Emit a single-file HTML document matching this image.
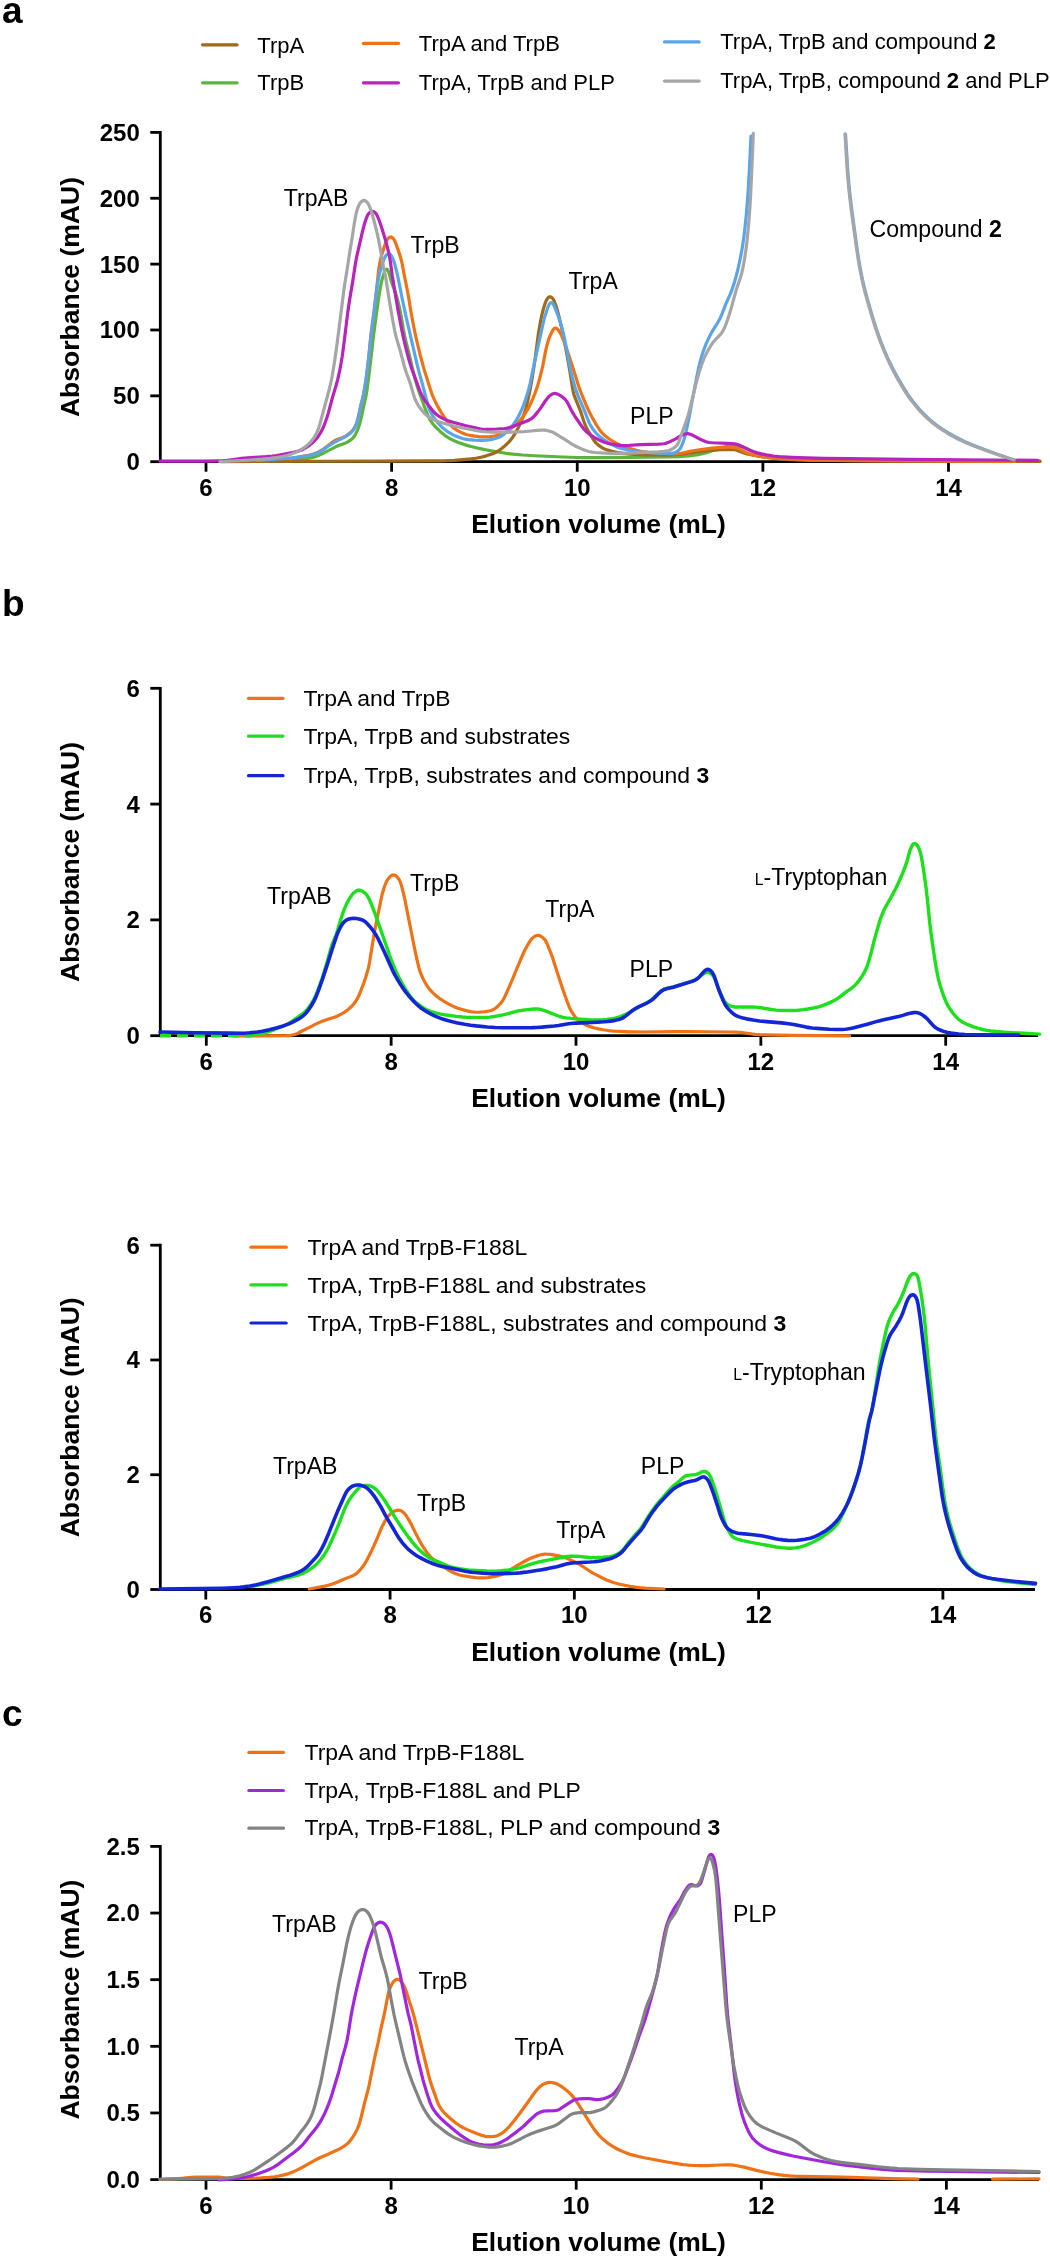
<!DOCTYPE html><html><head><meta charset="utf-8"><title>Figure</title><style>html,body{margin:0;padding:0;background:#fff;}svg{display:block;filter:blur(0.5px);}text{font-family:"Liberation Sans", sans-serif;}</style></head><body>
<svg width="1050" height="2260" viewBox="0 0 1050 2260">
<rect width="1050" height="2260" fill="#fff"/>
<text x="2" y="22.6" font-size="37" font-weight="bold" fill="#000">a</text>
<text x="2" y="616.2" font-size="37" font-weight="bold" fill="#000">b</text>
<text x="2" y="1726" font-size="37" font-weight="bold" fill="#000">c</text>
<path d="M160.3 131 V461.7 M158.9 461.7 H1041" fill="none" stroke="#000" stroke-width="2.8" stroke-linecap="butt"/>
<path d="M150.3 461.7 H160.3" stroke="#000" stroke-width="2.8"/>
<text x="139.8" y="470.1" font-size="24" font-weight="bold" text-anchor="end">0</text>
<path d="M150.3 395.84 H160.3" stroke="#000" stroke-width="2.8"/>
<text x="139.8" y="404.24" font-size="24" font-weight="bold" text-anchor="end">50</text>
<path d="M150.3 329.98 H160.3" stroke="#000" stroke-width="2.8"/>
<text x="139.8" y="338.38" font-size="24" font-weight="bold" text-anchor="end">100</text>
<path d="M150.3 264.12 H160.3" stroke="#000" stroke-width="2.8"/>
<text x="139.8" y="272.52" font-size="24" font-weight="bold" text-anchor="end">150</text>
<path d="M150.3 198.26 H160.3" stroke="#000" stroke-width="2.8"/>
<text x="139.8" y="206.66" font-size="24" font-weight="bold" text-anchor="end">200</text>
<path d="M150.3 132.4 H160.3" stroke="#000" stroke-width="2.8"/>
<text x="139.8" y="140.8" font-size="24" font-weight="bold" text-anchor="end">250</text>
<path d="M206 461.7 V471.7" stroke="#000" stroke-width="2.8"/>
<text x="206" y="495.6" font-size="24" font-weight="bold" text-anchor="middle">6</text>
<path d="M391.62 461.7 V471.7" stroke="#000" stroke-width="2.8"/>
<text x="391.62" y="495.6" font-size="24" font-weight="bold" text-anchor="middle">8</text>
<path d="M577.25 461.7 V471.7" stroke="#000" stroke-width="2.8"/>
<text x="577.25" y="495.6" font-size="24" font-weight="bold" text-anchor="middle">10</text>
<path d="M762.88 461.7 V471.7" stroke="#000" stroke-width="2.8"/>
<text x="762.88" y="495.6" font-size="24" font-weight="bold" text-anchor="middle">12</text>
<path d="M948.5 461.7 V471.7" stroke="#000" stroke-width="2.8"/>
<text x="948.5" y="495.6" font-size="24" font-weight="bold" text-anchor="middle">14</text>
<text x="598.5" y="532.9" font-size="26.5" font-weight="bold" text-anchor="middle">Elution volume (mL)</text>
<text transform="translate(79.2 297.05) rotate(-90)" x="0" y="0" font-size="26.5" font-weight="bold" text-anchor="middle">Absorbance (mAU)</text>
<path d="M289.5 460.3L304.63 458.84L308.99 458.27L311.34 457.79L313.65 457.16L316.31 456.28L319.3 455.15L322.57 453.64L332.12 448.6L335.69 446.81L338.63 445.55L345.02 443.22L346.83 442.39L348.58 441.43L350.89 439.85L352.1 438.82L352.94 437.97L354.42 436.09L356 433.33L357.35 430.42L358.38 427.82L359.37 424.78L360.45 420.93L361.88 415.1L363.76 405.69L365.6 397.91L366.35 393.98L367.4 386.86L369.35 371.78L371.19 356.29L373.24 338L374.59 327.29L378.45 299.15L379.38 293.23L380.69 285.74L381.32 282.6L381.97 279.88L383.22 275.66L384.24 272.63L385 270.81L385.59 269.87L386.29 269.27L386.79 269.19L387.27 269.39L387.7 269.83L388.06 270.44L388.5 271.51L389.1 273.41L391.23 281.12L395.37 292.38L396.56 296.2L397.83 300.83L399.25 306.66L400.43 312.13L403.46 329.87L404.71 336.15L405.81 340.82L408.47 351.29L412.46 368.43L414.59 376.97L416.03 382.38L417.8 388.11L420.52 395.63L423.8 405.08L426.53 412.17L428.4 416.59L429.65 419.09L430.89 421.15L432.51 423.42L434.29 425.58L436.48 427.91L439.65 430.96L442.34 433.35L444.84 435.35L446.8 436.73L448.84 437.99L451.3 439.32L454.18 440.71L457.12 441.97L460.11 443.12L463.51 444.3L466.95 445.37L471.19 446.54L476.24 447.79L481.31 448.92L486.8 450.03L492.71 451.1L502.57 452.75L508.11 453.57L512.87 454.17L522.43 454.99L534.81 455.74L563.18 457.02L576.77 457.51L584.77 457.66L592.37 457.7L626.37 457.46L668.76 456.82L679.16 456.53L684.75 456.21L689.13 455.81L693.5 455.29L698.25 454.6L701.4 454.02L705.65 452.89L714.78 449.94L727.06 446.34L729.01 445.87L730.97 445.51L732.56 445.33L734.15 445.26L736.14 445.37L738.11 445.66L741.23 446.36L743.53 447.05L745.75 447.95L749.35 449.69L751.46 450.81L754.92 452.83L756.7 453.72L759.32 454.68L763.56 455.87L769.01 457.12L774.54 458.05L779.31 458.54L787.29 459.01L798.08 459.49L808.88 459.84L820.48 460.09L832.87 460.22L901.27 460.61L1040 461" fill="none" stroke="#5BB43C" stroke-width="3.2" stroke-linejoin="round" stroke-linecap="round"/>
<path d="M221.5 461.6L377.9 461.19L429.5 460.89L441.1 460.78L446.7 460.65L454.29 460.29L462.67 459.7L471.03 458.93L475.79 458.28L480.88 457.27L486.3 455.84L491.99 453.97L493.86 453.24L495.67 452.4L497.76 451.24L499.77 449.92L501.69 448.49L503.86 446.72L506.23 444.58L508.52 442.34L510.14 440.57L511.63 438.69L513.24 436.4L514.95 433.7L516.76 430.59L518.45 427.41L519.84 424.53L521.3 421.24L522.64 417.9L524.01 414.14L525.85 408.43L527.36 402.62L529.24 394.03L531.36 383.03L533.05 372.77L535.25 357.73L538.53 332.74L540.09 323.68L541.67 315.84L542.69 311.56L543.74 307.7L544.79 304.26L545.77 301.64L546.84 299.5L547.94 297.87L548.46 297.34L549.04 296.95L549.66 296.76L549.99 296.75L550.96 297.03L551.57 297.43L552.14 297.94L552.66 298.53L553.35 299.49L554.27 301.25L555.45 304.22L556.48 307.25L557.59 311.09L558.88 316.13L561.88 328.98L564.69 342.7L567 354.88L568.61 363.94L570.69 376.16L572.86 389.99L573.61 393.51L574.45 396.18L580.58 411.39L581.64 414.41L583.82 421.27L585.09 424.63L586.26 427.18L587.72 430.02L592.14 437.63L593.63 439.99L594.82 441.6L596.16 443.07L597.94 444.68L600.15 446.39L602.49 447.92L604.62 449.02L606.85 449.88L611.86 451.25L617.73 452.52L623.25 453.42L628.42 454L634.01 454.34L646.4 454.78L656.8 455.02L666.4 455.09L672.39 454.91L678.77 454.35L694.25 452.43L703.35 451.08L707.72 450.58L714.9 450.1L722.09 449.74L728.49 449.54L732.48 449.55L734.46 449.76L736.79 450.31L738.68 450.95L743.91 452.94L746.98 453.84L753.64 455.22L760.73 456.46L768.65 457.55L781.78 458.91L790.56 459.61L798.15 459.96L834.14 460.4L878.14 460.74L1040 461.4" fill="none" stroke="#A06A1C" stroke-width="3.2" stroke-linejoin="round" stroke-linecap="round"/>
<path d="M289.5 459L300.85 456.62L308.32 455.23L311.45 454.55L313.38 454.02L315.27 453.38L318.93 451.78L321.39 450.44L323.39 449.13L328.5 445.28L332.58 442.06L334.56 440.71L335.61 440.13L337.06 439.48L341.6 437.93L343.44 437.18L345.57 436.08L347.93 434.57L350.43 432.59L352.41 430.62L354.1 428.4L354.73 427.38L355.45 425.96L356.19 424.11L357.07 421.45L358.16 417.61L358.95 414.5L360.89 405.1L362.68 398.13L363.47 394.62L364.48 389.11L365.54 382.4L366.78 373.68L367.86 364.95L368.96 355.01L370.93 335.11L374.42 308.54L376.23 292.64L378.23 273.55L378.93 268.39L379.79 263.26L380.67 258.95L381.58 255.47L384.44 246.31L385.94 242.18L386.95 240.02L387.6 239.02L388.09 238.41L388.64 237.86L389.24 237.41L389.88 237.11L390.56 236.98L391.57 237.17L392.21 237.53L392.79 238L393.8 239.19L394.59 240.56L395.51 242.77L398.12 249.91L400 255.6L401.11 259.44L402.27 264.51L404.29 275.12L407.67 291.99L408.71 297.89L411.07 312.51L412.8 321.95L414.76 331.75L416.74 340.74L420.14 354.73L423.47 367.09L425.18 372.84L430.59 390.01L432.15 394.55L433.51 397.88L435.03 401.14L437.22 405.41L439.55 409.61L441.6 413.04L443.77 416.4L446.5 420.35L448.44 422.89L449.76 424.39L451.48 426.06L453.61 427.87L455.54 429.29L457.57 430.56L460.04 431.88L462.57 433.08L464.8 433.97L466.32 434.46L468.25 434.96L473.36 435.91L478.51 436.61L482.9 436.94L486.5 436.94L490.08 436.67L494.44 436.04L498.35 435.25L500.64 434.56L503.21 433.46L505.67 432.12L508.7 430.18L512.59 427.37L515.07 425.36L517.4 423.16L519.83 420.51L522.1 417.72L524.24 414.82L526.02 412.16L527.65 409.42L529.34 406.24L531.07 402.63L532.83 398.6L534.76 393.77L536.43 389.27L537.68 385.47L539.15 380.48L540.69 374.69L542.73 366.13L545.18 353.16L546.07 348.85L547.04 344.97L548.4 340.36L549.17 338.09L550.05 335.86L551.4 332.96L552.69 330.48L553.33 329.49L554.08 328.65L554.96 328.13L555.6 328.05L556.24 328.19L556.86 328.53L557.69 329.29L558.43 330.21L560.58 333.58L561.33 334.99L562.17 336.8L563.91 341.27L567.82 352.19L573.76 370.45L578.53 385.72L579.98 389.88L582.12 395.48L585.95 404.72L589.48 412.34L591.12 415.54L593.05 419.05L595.63 423.56L597.71 426.98L599.03 428.98L600.43 430.93L601.69 432.48L603.06 433.93L604.53 435.28L606.7 437.05L608.94 438.72L611.26 440.29L613.65 441.75L615.75 442.91L617.89 443.99L620.45 445.13L625.32 446.94L632.19 449.09L636.44 450.25L640.72 451.24L644.66 451.95L648.22 452.42L655.4 453L663.39 453.47L670.18 453.73L675.78 453.77L678.17 453.65L680.95 453.29L683.7 452.77L689.94 451.35L693.07 450.72L699.4 449.76L706.54 448.82L712.11 448.21L722.07 447.33L726.46 447.13L730.06 447.21L732.45 447.42L734.82 447.74L736.4 448.02L737.94 448.41L739.06 448.82L740.14 449.32L745.36 452.25L747.95 453.32L751.37 454.44L754.83 455.41L757.95 456.14L761.1 456.7L769.03 457.71L777.8 458.46L795.77 459.45L812.56 460.13L828.55 460.48L868.55 460.78L1015 461.3" fill="none" stroke="#F07216" stroke-width="3.2" stroke-linejoin="round" stroke-linecap="round"/>
<path d="M257 460.5L282.93 458.6L292.1 457.81L298.07 457.21L302.82 456.58L307.16 455.83L311.06 454.96L314.52 453.98L317.88 452.7L320.76 451.3L322.78 450.03L327.94 446.24L331.32 444.11L336.55 441.16L343.69 437.57L347.15 435.56L349.42 433.93L351.22 432.36L352.85 430.6L354.26 428.67L355.23 426.93L356.15 424.72L357.14 421.68L358.32 417.44L359.14 413.94L360.85 405.31L362.71 398.36L363.36 395.63L364.73 388.16L366.32 377.48L367.45 368.75L368.9 356.03L371.01 334.94L373.87 313.53L375.93 295.65L377.35 285.35L378.48 278.64L379.58 273.56L380.9 268.53L382.19 264.33L384.04 259.04L385.06 256.88L386.19 255.26L387.29 254.21L387.91 253.88L388.55 253.75L388.88 253.76L389.51 253.96L390.38 254.59L391.36 255.79L392.18 257.15L392.84 258.6L393.66 260.85L394.75 264.28L395.61 267.36L396.85 272.41L398.08 277.87L401.55 295.53L405.61 314.71L417.03 364.21L418.79 371.19L422.36 383.9L425.64 396.68L427.64 404.01L428.67 407.46L429.81 410.45L431.41 413.67L433.28 416.74L435.63 419.98L438.69 423.67L441.73 426.85L444.43 429.22L447.65 431.59L449.66 432.9L451.38 433.91L453.16 434.84L454.97 435.67L458.31 437.03L460.93 438L463.22 438.72L465.16 439.2L468.31 439.67L474.7 440.05L482.7 440.28L485.1 440.27L487.09 440.17L488.68 439.99L490.65 439.66L494.53 438.71L498.34 437.49L499.8 436.85L500.86 436.3L502.22 435.46L503.52 434.54L506.29 432.25L509.75 428.92L512.14 426.23L514.04 423.66L516.19 420.29L518.36 416.46L520.36 412.54L522 408.9L523.64 404.82L525.28 400.31L526.92 395.37L528.74 389.24L530.08 383.8L534.85 360.69L540.18 336.88L542.86 324.36L544.07 319.3L544.95 316.23L546.79 310.52L547.83 307.49L548.57 305.64L549.27 304.22L549.93 303.32L550.72 302.75L551.3 302.65L551.59 302.7L552.15 302.99L552.89 303.75L553.7 305.08L554.53 306.89L557.12 313.18L558.25 316.17L559.77 320.73L561.36 326.1L563.21 333.05L564.87 340.47L567.15 351.84L569.7 366.01L570.95 371.88L572.17 376.94L573.4 381.57L574.96 386.95L576.3 391.15L577.98 395.64L584.91 411.82L588.07 420.03L589.16 422.61L590.43 425.1L591.87 427.5L593.44 429.81L595.17 432.01L596.5 433.5L598.18 435.21L601.19 437.84L604.44 440.17L609.2 443.11L613.43 445.37L617.09 446.99L620.49 448.16L625.52 449.48L632.17 450.9L635.32 451.42L638.5 451.82L646.87 452.47L658.05 453.08L666.85 453.35L670.45 453.38L672.04 453.33L673.22 453.17L674.36 452.87L675.45 452.43L676.84 451.64L678.12 450.71L679.28 449.63L680.02 448.71L680.86 447.36L681.88 445.2L683.21 441.85L684.11 439.2L684.87 436.51L686.46 429.9L688.57 420.12L696.83 376.5L698.09 370.22L699.07 365.93L700.39 360.9L701.71 356.29L703.03 352.09L704.49 347.94L705.96 344.22L707.57 340.56L709.48 336.6L712.3 331.31L713.75 328.91L717.84 322.51L719.22 320.07L720.3 317.93L721.87 314.25L725.76 304.18L730.49 293.58L732.47 288.35L734.42 282.25L736.35 275.32L738.47 266.78L739.78 260.92L740.89 255.44L741.97 249.53L742.93 243.61L743.72 238.07L744.52 231.72L746.08 217L747.34 202.65L748.37 187.49L749.69 163.93L751 136.2" fill="none" stroke="#5AA5EA" stroke-width="3.2" stroke-linejoin="round" stroke-linecap="round"/>
<path d="M845.5 134L847.28 163.15L848.04 174.32L848.97 185.08L850.21 197.02L852.11 212.5L857.1 248.96L859.15 262.4L860.95 272.24L862.26 278.5L863.68 284.74L865.12 290.57L866.74 296.76L868.9 304.46L871.92 314.83L874.26 322.48L876.47 329.33L880.16 339.91L881.87 344.39L883.82 349.21L886.02 354.36L888.16 359.1L890.57 364.15L892.91 368.8L897.87 377.94L903.52 387.61L908.26 395.02L910.55 398.3L912.69 401.2L915.19 404.32L918.3 407.98L921.25 411.24L924.3 414.41L927.16 417.2L930.12 419.89L932.88 422.21L935.72 424.42L938.95 426.78L942.24 429.04L945.6 431.22L949.36 433.51L953.18 435.68L957.06 437.76L960.99 439.73L964.97 441.6L972.7 444.9L982.4 448.65L995.9 453.67L1014 460" fill="none" stroke="#5AA5EA" stroke-width="3.2" stroke-linejoin="round" stroke-linecap="round"/>
<path d="M160 461.2L205.2 461.03L218.4 460.91L222 460.81L227.17 460.35L237.08 458.97L241.45 458.46L247.83 457.93L266.18 456.6L272.15 456.02L276.51 455.47L283.22 454.34L294.59 452.07L298.47 451.11L301.11 450.19L302.93 449.36L305.02 448.2L307.39 446.7L309.67 445.08L311.23 443.84L313.03 442.24L314.72 440.55L316.32 438.76L317.57 437.2L318.96 435.24L320.24 433.22L321.43 431.13L323.35 427.18L325.38 421.96L327.08 417.05L328.38 412.85L332.62 397L336.09 385.52L337.54 380.11L338.81 374.66L340.04 368.78L341.22 362.49L342.2 356.57L343.3 348.65L347.47 314.91L348.63 306.18L349.8 298.67L352.62 282.11L355.44 263.53L356.66 256.84L362.21 232.67L364.18 224.91L365.58 220.32L367.13 216.21L367.85 214.79L368.51 213.81L369.57 212.65L370.49 211.95L371.51 211.5L372.22 211.39L372.94 211.46L373.63 211.7L374.29 212.07L375.19 212.81L375.99 213.68L376.67 214.65L377.74 216.78L380.03 222.75L381.92 228.45L385.21 239.15L387.5 247.65L388.88 253.49L389.95 258.98L390.56 262.93L392.21 275.22L394.22 287.87L398.06 310.34L401.72 329.59L404.44 342.1L407.21 353.37L409.99 363.39L411.2 367.2L412.51 370.98L416.16 380.72L419.02 388.61L420.49 392.33L421.49 394.51L422.61 396.63L424.05 399.03L425.61 401.35L428.46 405.22L432.13 409.97L434.22 412.39L435.93 414.06L438.14 415.76L440.86 417.44L444.08 419.06L447.4 420.43L450.04 421.35L453.11 422.28L465.09 425.48L477.57 428.31L479.92 428.77L481.9 429.06L484.29 429.25L486.69 429.29L496.68 429.01L504.27 428.54L506.24 428.27L508.2 427.86L510.12 427.32L512.39 426.56L525.14 421.83L528.78 420.17L530.52 419.19L531.84 418.3L533.06 417.28L534.47 415.87L537.78 411.86L540.41 408.34L545.29 401.01L547.23 398.47L548.79 396.65L550.25 395.31L551.9 394.21L553.33 393.62L554.09 393.48L554.85 393.45L556 393.6L557.14 393.93L558.6 394.55L560 395.31L561.67 396.41L563.26 397.62L564.74 398.96L565.81 400.14L566.76 401.41L567.79 403.12L571.21 409.91L572.55 412.36L574.64 415.77L577.27 419.78L581.62 426.02L583.54 428.58L585.68 430.94L588.36 433.35L591.25 435.48L594.99 437.79L598.85 439.91L602.48 441.57L605.11 442.52L608.2 443.35L613.28 444.44L617.62 445.18L622 445.61L625.99 445.65L629.59 445.46L637.16 444.78L640.75 444.54L658.74 444.12L661.54 443.99L663.52 443.77L665.08 443.45L666.99 442.87L668.86 442.16L671.04 441.17L675.69 438.85L677.07 438.05L680.08 436.08L682.2 434.99L683.69 434.41L685.22 433.96L686.38 433.74L687.56 433.67L689.11 433.89L690.97 434.55L693.85 435.92L698.82 438.5L703.15 440.58L705.36 441.5L707.26 442.08L709.62 442.48L712.81 442.77L731.98 443.72L734.37 443.9L735.95 444.13L737.49 444.51L739.35 445.23L748.32 449.64L750.51 450.62L753.14 451.58L756.57 452.65L761.21 453.86L766.31 454.9L773.42 456.03L778.99 456.62L791.77 457.32L806.96 457.88L823.35 458.28L847.75 458.68L907.74 459.37L1037.6 460.4" fill="none" stroke="#B823BD" stroke-width="3.2" stroke-linejoin="round" stroke-linecap="round"/>
<path d="M219.9 461.6L247.47 460.23L255.45 459.72L262.23 459.17L270.18 458.33L277.32 457.36L282.44 456.48L286.72 455.46L291.68 453.92L293.93 453.08L296.14 452.15L298.31 451.13L300.43 450L302.14 448.97L304.14 447.64L306.06 446.21L307.6 444.93L309.36 443.3L310.74 441.86L312.04 440.34L313.25 438.76L314.36 437.1L315.37 435.37L316.65 432.88L317.95 429.96L318.92 427.34L319.86 424.28L329.42 388.74L330.91 382.52L332.08 376.63L333.99 365.19L336.2 350.15L338.75 330.72L343.51 293.02L344.75 283.91L347.3 268.52L349.95 250.71L352.55 235.33L354.37 223.06L355.89 214.8L356.6 211.69L357.26 209.38L358.2 206.74L359.19 204.57L360.26 202.9L361.58 201.44L362.18 200.96L362.83 200.59L363.85 200.34L364.55 200.42L365.22 200.67L365.85 201.07L366.72 201.85L367.49 202.75L368.17 203.73L368.76 204.77L369.42 206.21L370.84 209.95L372.05 213.76L374.68 223.41L376.36 230L378.07 237.41L379.63 245.25L381 252.73L383.51 267.72L385.17 274.72L385.72 277.46L388.14 293.28L390.09 305.12L393.06 322.06L394.63 330.31L395.49 334.22L396.47 338.1L400.32 351.14L404.53 366.99L406.12 371.94L409.94 382.47L411.01 385.9L413.65 395.13L414.55 397.78L415.47 399.99L416.52 402.15L417.67 404.25L418.94 406.29L420.3 408.27L421.99 410.5L423.54 412.33L425.19 414.06L426.68 415.39L428.28 416.59L430.29 417.89L432.04 418.86L434.19 419.92L436.4 420.86L438.65 421.7L444.36 423.51L452.1 425.56L463.02 428.02L470.87 429.55L477.96 430.8L481.52 431.33L485.5 431.73L492.69 432.17L497.89 432.36L503.09 432.38L511.48 432.17L524.27 431.57L528.26 431.27L537.02 430.43L541.01 430.17L543 430.14L544.6 430.2L546.18 430.39L547.75 430.7L549.69 431.19L551.59 431.78L553.08 432.37L554.86 433.27L564.34 439.21L571.4 443.77L573.8 445.2L576.28 446.5L582.12 449.12L585.84 450.59L588.89 451.53L592.03 452.12L595.61 452.48L601.59 452.93L606.79 453.2L611.58 453.35L620.78 453.35L632.78 452.97L653.56 452.08L658.75 451.75L663.53 451.32L666.7 450.92L668.65 450.51L670.53 449.87L672.66 448.79L674.31 447.66L676.12 446.11L677.42 444.62L678.22 443.26L678.97 441.42L686.25 421.08L688.12 415.38L689.53 410.38L696.02 383.55L697.74 376.97L699.35 371.61L701.09 366.29L702.57 362.15L704.05 358.43L705.54 355.15L707.15 351.94L708.9 348.79L710.78 345.72L712.59 343.08L714.08 341.2L715.42 339.72L719.32 335.71L720.62 334.2L721.59 332.92L722.69 331.26L723.66 329.51L724.52 327.71L725.44 325.49L727.35 320.23L730.11 311.87L731.56 306.88L736 290.68L737.23 286.87L740.14 278.57L741.69 273.19L742.69 268.91L743.7 263.81L744.65 258.29L745.61 251.96L746.52 245.22L747.23 239.26L748.58 224.93L749.86 207.77L750.64 194.6L752.05 164.23L753.3 133.3" fill="none" stroke="#A6A6A8" stroke-width="3.2" stroke-linejoin="round" stroke-linecap="round"/>
<path d="M845 134L846.78 163.15L847.54 174.32L848.47 185.08L849.75 197.41L851.66 212.9L856.72 249.75L858.78 263.19L860.61 273.02L861.93 279.28L863.28 285.13L864.81 291.34L866.45 297.53L871.65 315.6L874.01 323.24L876.23 330.09L878.18 335.76L880.09 341.03L881.96 345.88L884.07 351.07L886.28 356.21L888.58 361.32L891 366.37L893.34 371.01L898.32 380.14L903.61 389.1L905.96 392.82L908.4 396.47L910.72 399.74L912.89 402.6L915.68 406.01L918.56 409.33L921.53 412.58L924.61 415.72L927.5 418.48L930.49 421.14L933.28 423.42L936.46 425.84L939.71 428.17L943.36 430.62L946.75 432.76L950.53 435L954.03 436.94L957.93 438.97L961.89 440.9L965.89 442.72L970.68 444.75L975.89 446.81L990.15 452.05L998.09 454.8L1014 460" fill="none" stroke="#A6A6A8" stroke-width="3.2" stroke-linejoin="round" stroke-linecap="round"/>
<path d="M160.3 686.9 V1035.7 M158.9 1035.7 H1038" fill="none" stroke="#000" stroke-width="2.8" stroke-linecap="butt"/>
<path d="M150.3 1035.7 H160.3" stroke="#000" stroke-width="2.8"/>
<text x="139.8" y="1044.1" font-size="24" font-weight="bold" text-anchor="end">0</text>
<path d="M150.3 919.9 H160.3" stroke="#000" stroke-width="2.8"/>
<text x="139.8" y="928.3" font-size="24" font-weight="bold" text-anchor="end">2</text>
<path d="M150.3 804.1 H160.3" stroke="#000" stroke-width="2.8"/>
<text x="139.8" y="812.5" font-size="24" font-weight="bold" text-anchor="end">4</text>
<path d="M150.3 688.3 H160.3" stroke="#000" stroke-width="2.8"/>
<text x="139.8" y="696.7" font-size="24" font-weight="bold" text-anchor="end">6</text>
<path d="M206.3 1035.7 V1045.7" stroke="#000" stroke-width="2.8"/>
<text x="206.3" y="1069.6" font-size="24" font-weight="bold" text-anchor="middle">6</text>
<path d="M391.15 1035.7 V1045.7" stroke="#000" stroke-width="2.8"/>
<text x="391.15" y="1069.6" font-size="24" font-weight="bold" text-anchor="middle">8</text>
<path d="M576 1035.7 V1045.7" stroke="#000" stroke-width="2.8"/>
<text x="576" y="1069.6" font-size="24" font-weight="bold" text-anchor="middle">10</text>
<path d="M760.85 1035.7 V1045.7" stroke="#000" stroke-width="2.8"/>
<text x="760.85" y="1069.6" font-size="24" font-weight="bold" text-anchor="middle">12</text>
<path d="M945.7 1035.7 V1045.7" stroke="#000" stroke-width="2.8"/>
<text x="945.7" y="1069.6" font-size="24" font-weight="bold" text-anchor="middle">14</text>
<text x="598.5" y="1106.9" font-size="26.5" font-weight="bold" text-anchor="middle">Elution volume (mL)</text>
<text transform="translate(79.2 862) rotate(-90)" x="0" y="0" font-size="26.5" font-weight="bold" text-anchor="middle">Absorbance (mAU)</text>
<path d="M234.2 1036L269 1035.83L285.8 1035.63L288.2 1035.54L290.18 1035.35L292.16 1035.04L294.11 1034.62L296.01 1034.03L297.48 1033.41L302.39 1030.74L308.55 1027.86L315.64 1024.15L318.9 1022.63L322.24 1021.28L326.37 1019.77L335.11 1016.92L336.98 1016.2L339.16 1015.21L342.33 1013.51L345.69 1011.34L348.55 1009.15L351.2 1006.73L353.62 1004.07L355.56 1001.53L357.04 999.16L358.49 996.31L360.69 991.16L363.66 983.3L365.63 977.63L367.24 972.27L368.62 966.85L369.51 962.54L373.79 936.08L376.01 923.88L381.51 897.25L382.53 892.97L383.78 888.75L384.93 885.34L385.95 882.74L386.82 880.94L387.89 879.26L389.38 877.39L390.81 876.02L391.44 875.57L392.11 875.22L392.82 875.01L393.55 874.95L394.62 875.18L395.31 875.51L395.95 875.94L397.11 877L398.38 878.53L399.27 879.85L399.98 881.27L400.69 883.13L401.4 885.43L403.7 894.33L404.94 899.79L408.14 916.29L414.9 950.02L416.9 959.4L418.57 966.41L419.75 970.65L420.98 974.02L422.94 978.41L424.38 981.26L425.75 983.7L427.25 986.07L428.63 988.03L430.12 989.9L431.73 991.68L433.72 993.65L435.81 995.51L437.98 997.28L440.24 998.93L442.56 1000.49L445.3 1002.15L448.81 1004.07L452.38 1005.87L455.29 1007.19L457.9 1008.2L460.57 1009.05L465.19 1010.34L468.29 1011.12L470.64 1011.61L473.01 1011.99L475 1012.19L476.99 1012.27L479.39 1012.22L482.18 1012.02L485.36 1011.62L488.9 1011L491.22 1010.43L492.71 1009.87L494.46 1008.93L496.08 1007.76L497.59 1006.47L499.86 1004.21L501.68 1002.09L503.21 999.76L504.69 996.92L506.2 993.66L511.19 982.31L516.96 968.24L522.62 955L524.8 950.28L526.86 946.4L530.18 940.93L531.35 939.31L532.41 938.13L533.61 937.09L535.29 936.06L536.75 935.51L537.51 935.38L538.27 935.36L539.4 935.57L540.83 936.2L542.46 937.33L543.93 938.66L544.95 939.88L545.81 941.21L546.57 942.62L547.57 944.8L550.99 953.34L552.5 957.47L557.13 971.95L561.86 986.39L563.67 991.69L566.9 1000.73L569.32 1007.08L570.3 1009.27L571.43 1011.39L573.36 1014.42L575.49 1017.32L577.35 1019.41L579.13 1021L581.45 1022.56L584.96 1024.46L588.25 1025.92L591.64 1027.13L594.71 1028.02L598.61 1028.91L603.33 1029.79L608.07 1030.5L611.25 1030.85L614.84 1031.13L628.83 1031.8L635.62 1031.96L642.42 1031.99L673.62 1031.64L687.22 1031.61L707.62 1031.73L727.62 1032L736.42 1032.19L739.61 1032.34L743.19 1032.71L751.5 1033.93L755.08 1034.34L759.47 1034.61L767.86 1034.93L777.86 1035.16L793.46 1035.37L849.6 1035.8" fill="none" stroke="#F07216" stroke-width="3.2" stroke-linejoin="round" stroke-linecap="round"/>
<path d="M249.4 1035.6L261.22 1033.55L264.35 1032.87L267.44 1032.04L270.86 1030.93L274.61 1029.54L281.67 1026.72L285.7 1024.96L288.2 1023.7L290.61 1022.28L292.58 1020.92L297.09 1017.6L302.39 1014.01L303.94 1012.76L305.39 1011.39L307 1009.61L308.5 1007.74L310.13 1005.46L311.66 1003.12L313.09 1000.72L314.43 998.26L315.47 996.1L316.58 993.53L319.02 987.18L321.82 979.26L323.66 973.55L327.31 961.28L330.31 950.49L331.59 946.28L332.8 942.89L335.26 936.99L336.38 933.99L337.35 930.94L339.59 923.26L342.11 915.25L343.54 911.09L345.04 907.38L346.87 903.38L348.54 900.19L350.61 896.77L352.47 894.18L353.85 892.75L355.75 891.31L356.78 890.74L357.51 890.44L358.25 890.25L359 890.17L360.14 890.29L361.61 890.81L362.99 891.58L364.59 892.76L366 894.16L367.25 895.72L368.31 897.4L369.22 899.18L371.12 903.58L374.34 911.77L384.59 940.82L389.4 954.81L391.07 959.31L393.44 965.26L396.25 971.89L398.65 976.95L402.66 984.32L406.32 990.52L409.43 995.18L410.87 997.1L412.41 998.94L413.5 1000.11L414.94 1001.49L418.95 1004.79L421.21 1006.44L423.22 1007.76L425.28 1008.99L427.41 1010.09L429.23 1010.91L431.1 1011.61L435.71 1012.95L440.78 1014.09L446.3 1015.05L456.21 1016.35L462.57 1017.03L466.16 1017.28L469.36 1017.38L486.96 1017.35L489.75 1017.16L492.92 1016.76L496.47 1016.14L503.14 1014.84L507.04 1013.92L515.51 1011.54L519.42 1010.71L524.96 1009.9L529.72 1009.33L533.71 1009.01L536.9 1008.95L539.29 1009.16L542 1009.79L544.65 1010.7L559.56 1016.49L562.25 1017.23L566.2 1017.87L570.97 1018.4L576.55 1018.86L588.52 1019.69L594.91 1019.97L598.91 1019.96L602.5 1019.78L606.88 1019.35L611.64 1018.71L615.18 1018.1L618.27 1017.26L621.64 1016.01L626.41 1013.94L630.34 1011.96L639.66 1006.51L647.79 1002.21L650.18 1000.76L652.11 999.34L654.19 997.47L658.15 993.52L659.91 991.88L661.79 990.41L663.5 989.41L664.97 988.8L666.5 988.34L672.74 986.92L676.59 985.85L691.09 981.29L693.72 980.35L695.55 979.54L696.93 978.75L698.22 977.82L701.29 975.27L703.95 973.51L705 972.94L706.09 972.51L706.83 972.33L707.59 972.28L708.34 972.36L709.07 972.57L709.77 972.9L710.76 973.54L711.68 974.29L712.52 975.13L713.27 976.05L713.92 977.04L714.64 978.46L715.25 979.94L717.68 986.71L718.88 989.68L722.7 998.05L723.81 1000.17L724.87 1001.86L726.15 1003.36L727.38 1004.35L729.44 1005.55L731.65 1006.45L733.2 1006.8L735.18 1006.97L751.98 1007.01L755.57 1007.13L757.96 1007.35L760.74 1007.71L771.38 1009.54L776.14 1010.16L780.53 1010.4L790.93 1010.5L794.13 1010.46L796.92 1010.34L800.11 1010.06L803.29 1009.67L807.63 1009L813.54 1007.94L816.67 1007.28L819.38 1006.57L821.67 1005.86L824.31 1004.94L826.92 1003.91L829.85 1002.63L833.1 1001.08L835.58 999.79L837.3 998.77L838.93 997.62L845.16 992.61L852.34 987.53L855.06 985.18L856.98 983.14L859.2 980.32L861.47 977.03L863.58 973.63L865.11 970.82L866.3 968.29L867.36 965.7L868.38 962.66L871.17 952.65L873.95 941.38L875.72 934.82L879.66 921.39L880.65 918.34L881.76 915.34L883.46 911.29L885.36 907.32L886.9 904.51L890.33 898.64L893.41 893.03L895.96 888.05L898.36 882.99L902.65 873.08L905.54 865.62L907.17 860.68L909.55 851.8L910.62 848.79L911.77 846.24L912.54 844.88L913 844.3L913.53 843.85L914.13 843.6L914.44 843.56L914.76 843.58L915.4 843.78L916.02 844.16L916.6 844.65L917.13 845.23L917.82 846.18L918.74 847.94L919.72 850.56L920.61 853.63L921.32 856.75L922.14 861.07L923.82 871.74L926.13 888.38L927.21 897.92L929.78 922.98L931.08 933.71L933.2 948.76L934.86 959.83L936.39 968.91L937.76 975.97L938.85 980.65L940.14 985.27L941.79 990.62L943.48 995.54L945.07 999.64L946.69 1003.3L948.15 1006.14L949.81 1008.87L952.62 1012.76L955.45 1016.13L956.84 1017.57L958.29 1018.94L959.82 1020.22L961.11 1021.17L962.45 1022.02L964.21 1022.97L968.58 1024.96L973.43 1026.83L978.39 1028.4L982.65 1029.48L986.96 1030.34L991.32 1030.97L996.88 1031.56L1003.66 1032.11L1012.04 1032.65L1023.63 1033.32L1039.6 1034.1" fill="none" stroke="#1CE01C" stroke-width="3.4" stroke-linejoin="round" stroke-linecap="round"/>
<path d="M160 1035.8 L251 1035.8" fill="none" stroke="#1CE01C" stroke-width="3.4" stroke-dasharray="11 6"/>
<path d="M160 1032L195.99 1032.68L230.39 1033.14L242.79 1033.18L245.99 1033.06L249.58 1032.79L257.53 1031.93L262.27 1031.19L269.31 1029.7L277.08 1027.77L283.2 1025.91L288.84 1023.86L293.22 1021.9L297.79 1019.44L300.5 1017.74L302.75 1016.08L304.84 1014.22L306.73 1012.16L308.92 1009.31L311.13 1005.98L313.54 1001.83L315.16 998.62L316.44 995.68L318.05 991.59L322.79 978.42L327.5 963.96L331.93 949.85L336.34 936.56L337.32 933.93L338.25 931.72L340.57 927.07L342 924.67L343.17 923.05L344.52 921.6L346.06 920.35L347.43 919.55L349.29 918.89L351.64 918.47L353.63 918.37L356.41 918.58L359.94 919.23L362.22 919.95L363.98 920.86L365.56 922.05L367.56 924L370.75 927.59L372.98 930.41L374.36 932.38L375.87 934.73L377.08 936.8L378.38 939.28L384.17 951.59L392.65 970.58L394.85 974.84L398 980.41L400.08 983.83L402.03 986.86L404.08 989.82L405.99 992.38L408.51 995.49L411.38 998.82L413.82 1001.47L416.37 1004.01L418.44 1005.9L420.6 1007.67L422.54 1009.07L425.22 1010.82L428.32 1012.67L431.13 1014.19L434 1015.6L436.93 1016.89L439.53 1017.92L442.55 1018.97L445.99 1020.05L449.45 1021.02L456.46 1022.68L464.71 1024.26L470.63 1025.21L476.19 1025.9L487.34 1026.94L495.32 1027.49L502.91 1027.7L527.71 1027.7L532.51 1027.63L536.91 1027.45L541.7 1027.13L554.45 1025.97L558.41 1025.44L567.08 1023.92L570.65 1023.48L575.84 1023.14L597.42 1022.21L604.2 1021.81L607.39 1021.53L610.57 1021.14L613.72 1020.63L616.47 1020.07L618.8 1019.5L620.32 1019.03L621.43 1018.59L622.85 1017.88L624.21 1017.04L625.51 1016.11L632.04 1010.82L633.65 1009.64L634.99 1008.77L638.51 1006.88L646.85 1003.01L648.62 1002.08L650.33 1001.05L651.96 999.89L653.48 998.61L658.34 993.85L660.11 992.23L661.68 991L663.03 990.16L664.47 989.48L666.35 988.85L673.35 987.17L678.72 985.59L691.31 981.62L693.19 980.94L694.66 980.31L695.72 979.77L696.73 979.14L698.27 977.88L699.93 976.16L703.64 971.97L705.06 970.58L706.34 969.74L707.04 969.49L707.75 969.4L708.47 969.49L709.17 969.73L709.84 970.09L710.77 970.8L711.59 971.65L712.32 972.59L713.54 974.64L714.2 976.1L715.04 978.34L718.52 988.99L721.91 997.54L723.49 1001.21L724.72 1003.73L725.92 1005.8L727.08 1007.42L729.14 1009.86L731.09 1011.87L733.21 1013.7L735.18 1015.05L737.3 1016.14L739.92 1017.13L742.99 1018.04L746.49 1018.87L753.18 1020.09L759.52 1020.94L766.28 1021.63L781.43 1022.9L788.58 1023.71L793.71 1024.57L806.26 1027.1L809.41 1027.63L812.19 1027.99L820.16 1028.62L829.35 1029.18L836.94 1029.45L842.54 1029.45L844.93 1029.29L847.31 1029L850.07 1028.52L852.81 1027.93L866.39 1024.56L877.9 1021.14L882.53 1019.91L899.74 1016.22L902.83 1015.38L907.78 1013.81L910.1 1013.21L913.65 1012.62L914.84 1012.53L916.03 1012.53L917.97 1012.84L919.85 1013.5L921.96 1014.62L923.92 1015.99L925.78 1017.5L927.52 1019.15L932.01 1024.25L933.66 1025.98L934.86 1027.04L936.15 1027.96L938.6 1029.3L941.89 1030.76L944.9 1031.83L947.6 1032.55L951.15 1033.13L958.71 1033.95L965.09 1034.46L971.48 1034.78L979.48 1034.91L1018.6 1035" fill="none" stroke="#1226D8" stroke-width="3.6" stroke-linejoin="round" stroke-linecap="round"/>
<path d="M160.3 1243.8 V1589.5 M158.9 1589.5 H1035" fill="none" stroke="#000" stroke-width="2.8" stroke-linecap="butt"/>
<path d="M150.3 1589.5 H160.3" stroke="#000" stroke-width="2.8"/>
<text x="139.8" y="1597.9" font-size="24" font-weight="bold" text-anchor="end">0</text>
<path d="M150.3 1474.73 H160.3" stroke="#000" stroke-width="2.8"/>
<text x="139.8" y="1483.13" font-size="24" font-weight="bold" text-anchor="end">2</text>
<path d="M150.3 1359.97 H160.3" stroke="#000" stroke-width="2.8"/>
<text x="139.8" y="1368.37" font-size="24" font-weight="bold" text-anchor="end">4</text>
<path d="M150.3 1245.2 H160.3" stroke="#000" stroke-width="2.8"/>
<text x="139.8" y="1253.6" font-size="24" font-weight="bold" text-anchor="end">6</text>
<path d="M205.8 1589.5 V1599.5" stroke="#000" stroke-width="2.8"/>
<text x="205.8" y="1623.4" font-size="24" font-weight="bold" text-anchor="middle">6</text>
<path d="M390.07 1589.5 V1599.5" stroke="#000" stroke-width="2.8"/>
<text x="390.07" y="1623.4" font-size="24" font-weight="bold" text-anchor="middle">8</text>
<path d="M574.35 1589.5 V1599.5" stroke="#000" stroke-width="2.8"/>
<text x="574.35" y="1623.4" font-size="24" font-weight="bold" text-anchor="middle">10</text>
<path d="M758.62 1589.5 V1599.5" stroke="#000" stroke-width="2.8"/>
<text x="758.62" y="1623.4" font-size="24" font-weight="bold" text-anchor="middle">12</text>
<path d="M942.9 1589.5 V1599.5" stroke="#000" stroke-width="2.8"/>
<text x="942.9" y="1623.4" font-size="24" font-weight="bold" text-anchor="middle">14</text>
<text x="598.5" y="1660.7" font-size="26.5" font-weight="bold" text-anchor="middle">Elution volume (mL)</text>
<text transform="translate(79.2 1417.35) rotate(-90)" x="0" y="0" font-size="26.5" font-weight="bold" text-anchor="middle">Absorbance (mAU)</text>
<path d="M309.3 1589L324.62 1586.07L328.9 1585.07L332.36 1584.06L335.35 1582.94L343.81 1579.33L353.09 1575.62L355.18 1574.46L357.07 1573L358.24 1571.91L359.61 1570.46L362.66 1566.75L364.73 1563.81L366.73 1560.35L370.91 1552.16L373.64 1546.37L377.37 1537.96L380.84 1529.44L382.3 1526.15L384.51 1521.89L386.56 1518.46L387.97 1516.52L389.28 1515.02L390.71 1513.62L392.25 1512.36L393.6 1511.54L395.43 1510.77L396.96 1510.35L398.51 1510.2L399.28 1510.26L400.4 1510.55L401.47 1511.05L402.47 1511.69L403.71 1512.68L404.55 1513.52L405.32 1514.43L406.26 1515.73L408.38 1519.11L410.37 1522.58L416.04 1534.06L419.56 1540.79L421.71 1544.63L423.83 1548.02L426.32 1551.65L428.27 1554.18L430.11 1556.28L432.67 1558.82L435.66 1561.48L438.81 1563.94L441.78 1565.97L447.59 1569.49L451.79 1571.81L455.42 1573.5L458.8 1574.71L460.73 1575.23L462.69 1575.64L470.18 1576.91L475.74 1577.57L480.53 1577.86L484.52 1577.82L488.11 1577.5L492.06 1576.89L497.15 1575.84L499.48 1575.26L501 1574.78L502.85 1574.04L504.65 1573.16L507.77 1571.37L514.16 1567.26L516.91 1565.62L527.06 1560.02L529.56 1558.76L531.75 1557.77L533.98 1556.9L537.02 1555.88L539.69 1555.06L541.63 1554.58L543.2 1554.31L544.79 1554.17L547.98 1554.23L550.37 1554.45L553.14 1554.84L560.21 1556.19L562.15 1556.68L564.06 1557.27L568.16 1558.85L573.24 1561.2L578.59 1563.93L582 1566L590.69 1571.72L593.46 1573.32L598.41 1575.94L603.04 1578.3L606.67 1579.98L610 1581.34L613.41 1582.49L618.82 1583.95L624.66 1585.3L630.16 1586.36L635.3 1587.14L639.67 1587.61L645.26 1588.03L664 1589" fill="none" stroke="#F07216" stroke-width="3.2" stroke-linejoin="round" stroke-linecap="round"/>
<path d="M251.4 1586.5L263.54 1583.97L269.78 1582.55L274.03 1581.43L284.81 1578.36L294.93 1575.98L299.15 1574.76L301.4 1573.94L303.24 1573.15L305.39 1572.08L307.48 1570.91L309.52 1569.64L311.83 1568.06L314.07 1566.38L315.6 1565.1L317.03 1563.71L318.65 1561.94L320.44 1559.79L322.4 1557.26L323.79 1555.31L325.32 1552.96L326.76 1550.56L327.9 1548.45L329.3 1545.57L333.12 1537.2L336.34 1529.88L339.81 1521.36L343.82 1510.9L345.04 1507.95L347.12 1503.62L349.27 1499.79L351.04 1497.12L353.21 1494.25L357.92 1488.81L359.29 1487.38L360.22 1486.68L361.26 1486.18L362.78 1485.8L364.75 1485.56L366.75 1485.47L368.33 1485.53L369.88 1485.83L371.37 1486.37L373.15 1487.27L375.15 1488.58L376.36 1489.6L377.73 1491.06L379.21 1492.94L382.06 1496.8L384.81 1500.73L389.13 1507.47L394.22 1516.07L396.78 1520.13L401.02 1526.44L408.13 1536.6L411.78 1541.36L416.43 1546.85L419.48 1550.02L423.05 1553.22L425.23 1554.98L427.17 1556.4L429.19 1557.69L430.93 1558.66L433.46 1559.85L440.13 1562.57L447.44 1565.81L450.47 1566.82L453.97 1567.65L459.47 1568.7L464.62 1569.46L468.59 1569.91L472.98 1570.28L480.56 1570.78L486.55 1571.07L494.15 1571.17L497.35 1571.05L500.94 1570.78L508.48 1569.88L513.23 1569.18L515.98 1568.67L520.23 1567.56L530.86 1564.02L535.87 1562.65L540.95 1561.52L546.44 1560.4L557.06 1558.44L564.12 1557.04L567.28 1556.52L570.85 1556.18L574.45 1556.16L578.44 1556.4L589.59 1557.45L592.79 1557.58L596.79 1557.55L603.18 1557.23L609.55 1556.65L612.29 1556.14L614.93 1555.23L617.45 1554.01L620.18 1552.36L622.07 1550.9L623.45 1549.47L624.67 1547.89L627.66 1543.64L629.14 1541.75L634.65 1535.41L639.18 1530.35L641.45 1527.55L643.24 1524.91L646.47 1519.38L648.63 1516.01L653.62 1508.77L656.93 1504.25L658.97 1501.79L662.96 1497.31L667.68 1491.87L670.66 1488.63L672.64 1486.65L674.74 1484.81L679.43 1481.08L683.52 1477.26L684.47 1476.56L685.15 1476.16L686.23 1475.71L687.77 1475.36L689.35 1475.17L694.53 1474.79L696.48 1474.45L697.94 1473.9L701.03 1472.15L702.52 1471.64L703.67 1471.45L704.82 1471.47L705.56 1471.63L706.61 1472.1L707.58 1472.77L708.44 1473.57L709.21 1474.47L709.87 1475.46L710.59 1476.87L712.03 1480.6L715.5 1490.83L720.44 1507.31L723.61 1518.46L725.25 1523.4L726.16 1525.61L727.69 1528.87L728.95 1531.37L730.14 1533.45L731.03 1534.78L732.03 1536.01L732.89 1536.82L733.85 1537.51L734.89 1538.09L736.35 1538.74L739.37 1539.76L742.86 1540.63L751.07 1542.45L776.26 1546.98L781.41 1547.65L786.99 1548.18L790.19 1548.26L792.98 1548.11L796.54 1547.63L800.47 1546.87L802.79 1546.26L805.44 1545.36L808.77 1544.02L812.06 1542.55L815.62 1540.74L819.09 1538.74L822.79 1536.37L827.41 1533.19L829.96 1531.27L832.4 1529.2L834.7 1526.98L836.57 1524.89L837.79 1523.32L839.1 1521.31L840.28 1519.22L841.72 1516.37L843.73 1512L847.08 1504.3L850.21 1496.51L853.22 1488.24L857.37 1476.13L859.31 1469.62L860.83 1463.4L862.08 1457.12L864.76 1442.57L867.18 1428.37L868.14 1423.26L869.18 1418.99L871.33 1412.55L872.38 1407.87L873.47 1401.56L878.61 1368.36L880.13 1359.28L881.55 1351.82L883.16 1343.98L885.78 1331.86L887.13 1326.43L887.96 1323.75L889.05 1320.75L890.11 1318.16L891.45 1315.25L893.49 1311.35L896.66 1306.26L898.06 1303.84L899.69 1300.63L901.39 1297.01L904.04 1290.75L907.16 1282.1L908.79 1278.45L909.98 1276.37L911.22 1274.86L911.81 1274.36L912.44 1273.97L913.13 1273.72L913.84 1273.65L914.57 1273.74L915.27 1273.98L915.92 1274.35L916.49 1274.84L916.98 1275.43L917.38 1276.09L918.08 1277.92L918.83 1281.03L919.78 1286.14L921.58 1296.79L922.74 1304.71L923.89 1313.84L924.99 1323.77L927.83 1357.65L935.62 1435.26L937.22 1447.96L940.09 1467.76L943.14 1490.35L944.48 1499.45L945.38 1504.57L946.69 1510.84L948.16 1517.07L949.7 1522.87L951.73 1529.77L954.53 1538.54L956.69 1544.98L958.62 1550.24L960.48 1554.66L962.31 1558.22L963.57 1560.26L964.92 1562.24L966.36 1564.16L967.63 1565.7L968.98 1567.18L970.4 1568.58L971.91 1569.89L973.48 1571.13L975.43 1572.52L977.11 1573.6L978.85 1574.58L980.29 1575.27L982.14 1576.02L984.04 1576.66L989.03 1578.1L994.49 1579.36L1000.38 1580.47L1007.1 1581.51L1013.45 1582.33L1035 1584.5" fill="none" stroke="#1CE01C" stroke-width="3.4" stroke-linejoin="round" stroke-linecap="round"/>
<path d="M160 1589L201.2 1588.61L222 1588.27L227.99 1588.06L233.98 1587.73L239.97 1587.29L243.94 1586.87L249.87 1585.96L256.55 1584.66L260.43 1583.72L268.92 1581.39L286.61 1576.34L290.44 1575.17L293.85 1574.02L296.47 1573.03L298.67 1572.09L300.83 1571.04L302.57 1570.06L304.58 1568.75L306.17 1567.54L307.66 1566.22L315.38 1558.11L317.16 1555.96L318.77 1553.67L320.23 1551.28L321.98 1548.13L323.62 1544.93L324.97 1542.03L328.74 1533.2L335.27 1516.86L337.58 1511.32L344.73 1495.24L346.15 1492.38L347.24 1490.71L348.27 1489.5L349.7 1488.11L351.27 1486.9L352.64 1486.11L353.74 1485.67L355.28 1485.29L357.26 1485.03L359.24 1485.02L361.2 1485.33L363.46 1486.1L365.61 1487.14L366.94 1488L368.46 1489.29L369.84 1490.73L371.91 1493.17L373.64 1495.37L375.03 1497.32L378.86 1503.42L381.07 1507.22L385.04 1514.62L387 1518.11L393.36 1528.75L397.18 1535.33L399.32 1538.7L402.44 1542.86L405.84 1546.8L407.52 1548.51L408.98 1549.87L412.7 1552.9L415.29 1554.77L417.64 1556.29L420.06 1557.69L422.9 1559.19L426.48 1560.95L429.77 1562.43L433.1 1563.78L436.12 1564.85L439.18 1565.77L442.29 1566.51L452.51 1568.42L465.4 1571.29L468.55 1571.85L471.72 1572.27L483.27 1573.32L487.66 1573.57L491.66 1573.68L500.06 1573.64L510.06 1573.42L515.65 1573.2L520.04 1572.85L525.59 1572.16L536.67 1570.52L541.81 1569.68L547.71 1568.61L556.72 1566.75L559.43 1566.06L566.35 1564.08L570.26 1563.23L572.24 1562.95L575.02 1562.71L590.21 1562.02L593.8 1561.75L596.98 1561.41L601.33 1560.74L605.64 1559.86L609.9 1558.76L612.91 1557.71L615.8 1556.34L618.88 1554.48L621.12 1552.81L622 1552.01L623.1 1550.85L626.86 1546.19L631 1541.3L633.37 1538.6L639.31 1532.1L641.6 1529.33L643.18 1527.02L647.03 1520.47L650.46 1515.07L653.42 1510.79L656.57 1506.66L659.43 1503.32L665.43 1496.88L669.88 1492.28L671.89 1490.34L673.75 1488.83L676.08 1487.28L680.25 1484.91L682.76 1483.68L685.37 1482.68L688.44 1481.76L690.76 1481.18L694.69 1480.41L696.22 1480.02L697.68 1479.42L701.12 1477.45L701.84 1477.16L702.57 1476.99L703.32 1476.95L704.05 1477.06L704.77 1477.3L705.78 1477.87L706.68 1478.62L707.48 1479.49L708.17 1480.46L708.76 1481.49L710.22 1484.78L713.02 1492.27L717.03 1504.43L720.15 1514.35L721.12 1516.97L722.56 1520.27L724.71 1524.56L725.54 1525.92L726.49 1527.2L727.29 1528.07L728.5 1529.11L729.8 1530.03L731.51 1531.06L732.94 1531.76L734.42 1532.34L735.96 1532.78L737.91 1533.17L741.88 1533.65L751.05 1534.42L757.4 1535.23L762.93 1536.09L767.66 1536.92L775.46 1538.67L778.21 1539.21L782.96 1539.86L787.74 1540.34L790.53 1540.47L793.73 1540.44L796.93 1540.24L800.51 1539.86L804.86 1539.23L808.8 1538.53L811.12 1537.96L813.77 1537.05L816.33 1535.94L819.54 1534.31L823.71 1531.93L826.4 1530.21L828.66 1528.55L831.12 1526.5L833.46 1524.32L835.69 1522.03L837.55 1519.94L839.27 1517.74L841.09 1515.1L842.77 1512.38L844.74 1508.9L846.78 1505L848.33 1501.75L849.89 1498.07L852.74 1490.6L855.86 1481.52L858.29 1473.48L860.42 1465.35L862.15 1457.54L864.82 1444.21L868.75 1422.97L869.72 1418.68L871.46 1412.11L872.5 1407.42L879.69 1370.92L881.3 1363.9L883.04 1356.92L884.62 1351.13L886.88 1343.46L888.55 1338.54L889.32 1336.69L890.19 1334.9L891.82 1332.14L895 1327.54L896.5 1325.18L899.31 1320.33L901.15 1316.78L902.13 1314.59L902.86 1312.73L906.15 1303.29L907.24 1300.71L908.28 1298.56L909.34 1296.88L910.39 1295.72L910.99 1295.26L911.63 1294.92L912.66 1294.76L913.68 1295.02L914.32 1295.4L914.89 1295.9L915.81 1297.14L916.51 1298.56L917.18 1300.44L917.77 1302.76L918.28 1305.51L918.96 1309.86L920.31 1319.36L921.21 1326.5L925.49 1363.05L930.42 1403.96L933.74 1433.77L934.83 1442.91L936.5 1455.6L940.72 1486.11L941.94 1494.42L942.97 1500.74L944.02 1506.24L945.49 1512.88L947.04 1519.09L948.64 1524.87L950.74 1531.75L953.98 1541.64L956.11 1547.67L958.01 1552.51L959.86 1556.5L961.66 1559.62L964.15 1563.24L965.64 1565.12L966.95 1566.62L969.52 1569.14L971.06 1570.42L972.97 1571.87L975.98 1573.83L977.39 1574.58L978.85 1575.23L981.88 1576.23L986.53 1577.39L991.63 1578.41L997.16 1579.28L1007.08 1580.58L1013.44 1581.32L1035.5 1583.4" fill="none" stroke="#1226D8" stroke-width="3.6" stroke-linejoin="round" stroke-linecap="round"/>
<path d="M160.3 1845 V2179.6 M158.9 2179.6 H1039" fill="none" stroke="#000" stroke-width="2.8" stroke-linecap="butt"/>
<path d="M150.3 2179.6 H160.3" stroke="#000" stroke-width="2.8"/>
<text x="139.8" y="2188" font-size="24" font-weight="bold" text-anchor="end">0.0</text>
<path d="M150.3 2112.96 H160.3" stroke="#000" stroke-width="2.8"/>
<text x="139.8" y="2121.36" font-size="24" font-weight="bold" text-anchor="end">0.5</text>
<path d="M150.3 2046.32 H160.3" stroke="#000" stroke-width="2.8"/>
<text x="139.8" y="2054.72" font-size="24" font-weight="bold" text-anchor="end">1.0</text>
<path d="M150.3 1979.68 H160.3" stroke="#000" stroke-width="2.8"/>
<text x="139.8" y="1988.08" font-size="24" font-weight="bold" text-anchor="end">1.5</text>
<path d="M150.3 1913.04 H160.3" stroke="#000" stroke-width="2.8"/>
<text x="139.8" y="1921.44" font-size="24" font-weight="bold" text-anchor="end">2.0</text>
<path d="M150.3 1846.4 H160.3" stroke="#000" stroke-width="2.8"/>
<text x="139.8" y="1854.8" font-size="24" font-weight="bold" text-anchor="end">2.5</text>
<path d="M206 2179.6 V2189.6" stroke="#000" stroke-width="2.8"/>
<text x="206" y="2213.5" font-size="24" font-weight="bold" text-anchor="middle">6</text>
<path d="M391.1 2179.6 V2189.6" stroke="#000" stroke-width="2.8"/>
<text x="391.1" y="2213.5" font-size="24" font-weight="bold" text-anchor="middle">8</text>
<path d="M576.2 2179.6 V2189.6" stroke="#000" stroke-width="2.8"/>
<text x="576.2" y="2213.5" font-size="24" font-weight="bold" text-anchor="middle">10</text>
<path d="M761.3 2179.6 V2189.6" stroke="#000" stroke-width="2.8"/>
<text x="761.3" y="2213.5" font-size="24" font-weight="bold" text-anchor="middle">12</text>
<path d="M946.4 2179.6 V2189.6" stroke="#000" stroke-width="2.8"/>
<text x="946.4" y="2213.5" font-size="24" font-weight="bold" text-anchor="middle">14</text>
<text x="598.5" y="2250.8" font-size="26.5" font-weight="bold" text-anchor="middle">Elution volume (mL)</text>
<text transform="translate(79.2 1999.6) rotate(-90)" x="0" y="0" font-size="26.5" font-weight="bold" text-anchor="middle">Absorbance (mAU)</text>
<path d="M160 2179.3L179.98 2178.35L183.57 2178.07L191.52 2177.24L196.31 2177.01L218.71 2177.04L221.09 2177.27L225.41 2178.04L228.2 2178.21L246.2 2178.3L253.8 2178.23L260.99 2177.9L269.37 2177.26L274.54 2176.73L278.88 2176.04L283.18 2175.11L287.82 2173.88L290.85 2172.84L294.15 2171.42L297.38 2169.83L304.84 2165.98L314.24 2160.65L317.77 2158.78L321.03 2157.26L328.74 2153.92L336.73 2150.23L339.6 2148.82L341.71 2147.67L343.75 2146.42L345.4 2145.28L346.97 2144.05L348.71 2142.41L350.51 2140.28L352.6 2137.35L354.53 2134.31L356.08 2131.51L357.46 2128.62L358.67 2125.66L359.71 2122.64L360.74 2118.78L364.55 2102.82L367.68 2091.24L369 2085.8L374.43 2058.74L377.69 2044.72L380.84 2029.03L384.27 2014.22L387.82 1995.76L388.6 1992.25L389.42 1989.57L390.45 1986.98L391.71 1984.47L392.97 1982.44L393.96 1981.2L395.12 1980.15L395.77 1979.74L396.45 1979.44L397.52 1979.29L398.6 1979.5L399.62 1980.02L400.82 1981.01L401.82 1982.23L403.08 1984.27L404.36 1986.75L405.49 1989.31L406.45 1991.94L408.89 1999.98L412.29 2010.23L413.63 2014.84L419.01 2036.17L429.01 2076.55L430.14 2080.8L431.84 2086.13L434.56 2093.66L437.06 2100.84L438.06 2103.45L439.07 2105.62L440.29 2107.68L441.67 2109.64L443.17 2111.51L445.06 2113.58L447.36 2115.79L451.57 2119.49L454.33 2121.8L456.54 2123.52L460.18 2125.98L464.03 2128.1L468.39 2130.1L477.24 2133.83L481.41 2135.23L485.26 2136.3L487.62 2136.67L490.41 2136.72L493.99 2136.4L495.56 2136.11L496.71 2135.79L497.83 2135.38L499.27 2134.71L501.03 2133.75L502.37 2132.9L504.88 2130.92L507.79 2128.18L510.2 2125.51L513.49 2121.48L517.18 2116.75L523.88 2107.78L526.92 2103.55L531.22 2097.29L533.81 2093.74L536.25 2090.56L538.09 2088.46L539.82 2086.8L541.35 2085.52L543 2084.41L544.42 2083.69L546.28 2082.98L547.82 2082.59L549.39 2082.41L551.37 2082.49L553.73 2082.88L556.02 2083.57L558.19 2084.57L560.96 2086.16L563.61 2087.96L566.75 2090.44L569.43 2092.83L571.67 2095.11L572.98 2096.62L574.45 2098.52L577.82 2103.48L581.72 2109.53L589.91 2122.81L594.59 2129.78L596.51 2132.34L598.58 2134.78L600.79 2137.09L603.42 2139.55L606.81 2142.35L610.04 2144.71L613.41 2146.85L617.26 2148.99L621.23 2150.89L626.03 2152.87L629.81 2154.19L634.04 2155.4L638.7 2156.54L644.17 2157.71L668.56 2162.24L678.82 2163.94L683.17 2164.54L687.55 2165.03L693.93 2165.52L699.92 2165.69L706.72 2165.57L720.31 2164.99L725.91 2164.83L729.9 2164.86L733.48 2165.2L737.04 2165.78L744.1 2167.16L756.5 2170.35L764.69 2172.19L769.78 2173.24L773.72 2173.93L778.08 2174.55L784.43 2175.35L789.6 2175.87L793.99 2176.15L800.79 2176.34L829.59 2176.73L842.38 2177.01L891.96 2178.58L918 2179.2" fill="none" stroke="#F07216" stroke-width="3.2" stroke-linejoin="round" stroke-linecap="round"/>
<path d="M992.6 2179.2L1039 2178.8" fill="none" stroke="#F07216" stroke-width="3.2" stroke-linejoin="round" stroke-linecap="round"/>
<path d="M219 2180L232.15 2178.88L237.72 2178.32L242.87 2177.62L247.19 2176.75L250.67 2175.86L254.52 2174.75L258.72 2173.45L262.12 2172.28L265.48 2170.99L268.43 2169.74L271.32 2168.37L273.79 2167.06L276.52 2165.38L279.47 2163.33L293.5 2152.7L297.57 2149.46L301.13 2146.25L302.81 2144.54L304.13 2143.04L308.97 2136.67L314.89 2129.63L317.04 2126.75L319.47 2123.08L322.09 2118.59L324.28 2114.32L326.56 2109.21L328.79 2103.63L330.53 2098.74L332.39 2093.03L338.94 2071.2L341.93 2059.16L345.23 2047.63L346.7 2041.81L347.36 2038.68L348.07 2034.74L351.28 2014.6L352.79 2006.74L354.59 1998.13L357.14 1986.81L363.25 1961.54L365.24 1953.79L367.33 1946.49L369.12 1940.76L371.48 1933.96L372.86 1930.2L373.98 1927.64L375.2 1925.59L376.46 1924.07L377.35 1923.3L378.01 1922.88L378.71 1922.54L379.44 1922.31L380.19 1922.19L380.95 1922.2L381.7 1922.34L382.78 1922.75L383.46 1923.14L384.4 1923.85L385.24 1924.68L385.99 1925.6L387.26 1927.63L388.45 1930.16L389.71 1933.53L390.87 1937.35L392.31 1942.76L394.58 1952.09L398.97 1969.55L400.08 1974.22L407.25 2009.5L408.22 2013.79L410.23 2021.53L411.13 2025.43L416.84 2054.47L418.11 2060.33L420.6 2070.02L422.87 2079.35L424.02 2083.59L426.24 2090.86L429.07 2099.62L430.39 2103.39L431.83 2106.68L432.8 2108.43L433.87 2110.12L436.26 2113.32L439.18 2116.6L442.25 2119.76L445.49 2122.74L455.56 2131.27L459.31 2134.26L464.89 2138.15L468.64 2140.44L470.06 2141.17L471.89 2141.96L476.05 2143.4L478.37 2144L480.33 2144.37L483.11 2144.72L486.69 2145.03L489.09 2145.15L491.08 2145.12L492.67 2144.95L494.23 2144.63L498.05 2143.46L501 2142.25L503.14 2141.16L505.23 2139.98L508.57 2137.79L517.56 2131.1L521.63 2127.86L523.72 2126.01L528.91 2121.02L535.37 2115.05L537.3 2113.64L539.42 2112.55L542.05 2111.6L543.59 2111.2L544.77 2110.99L547.15 2110.78L554.75 2110.59L556.32 2110.4L557.84 2109.99L559.29 2109.34L560.66 2108.53L564.31 2106.07L572.37 2100.86L574.13 2099.95L576.01 2099.33L577.58 2099.05L580.36 2098.78L583.55 2098.59L586.35 2098.53L589.54 2098.71L595.88 2099.57L597.87 2099.63L599.46 2099.51L602.6 2098.92L606.44 2097.81L609.02 2096.75L611.45 2095.38L612.74 2094.45L614.2 2093.1L615.75 2091.28L617.92 2088.4L619.74 2085.77L621.21 2083.39L622.55 2080.93L623.76 2078.41L625.71 2073.59L631.86 2057.1L634.26 2050.31L638.85 2036.66L643.16 2025.04L644.85 2020.12L646.52 2014.77L648.51 2007.86L654.28 1987.04L655.98 1980.46L656.96 1976.17L657.74 1972.24L661.11 1952.13L663.53 1939.15L664.79 1932.88L665.7 1928.98L666.67 1925.51L667.94 1921.72L669.38 1917.99L671.54 1913.26L674.01 1908.69L675.53 1906.34L678.82 1901.81L680.16 1899.82L681.36 1897.75L683.71 1893.11L684.68 1891.36L686.85 1888.01L688.31 1886.12L689.15 1885.34L689.79 1884.96L690.47 1884.72L691.19 1884.65L692.31 1884.82L694.53 1885.61L695.65 1885.92L696.4 1885.99L697.14 1885.92L697.85 1885.7L698.84 1885.14L699.69 1884.36L700.39 1883.42L701.09 1882.01L701.87 1879.75L704.05 1872.47L706.97 1862.07L708.29 1857.88L709.09 1856.07L709.69 1855.13L710.42 1854.52L710.97 1854.4L711.54 1854.54L712.08 1854.91L712.57 1855.44L712.99 1856.08L713.8 1857.88L714.48 1860.17L715.29 1864.09L716.19 1869.61L716.82 1874.37L717.63 1881.53L718.75 1892.67L719.71 1904.23L721.43 1928.97L724.6 1972.45L726.61 2002.79L727.43 2013.16L728.4 2022.71L730.75 2042.16L733.92 2070.79L734.89 2078.73L735.73 2084.67L737.54 2094.91L739.56 2104.7L741.48 2112.47L742.47 2115.93L743.45 2118.97L744.82 2122.73L746.45 2126.82L747.91 2130.11L749.33 2132.98L750.71 2135.41L752.05 2137.39L753.31 2138.94L754.97 2140.68L757.65 2143.07L760.53 2145.22L763.26 2146.88L766.48 2148.48L770.19 2149.97L774.37 2151.36L778.99 2152.65L785.98 2154.37L793.01 2155.95L800.85 2157.53L823.67 2161.71L832.73 2163.29L843.02 2164.81L860.08 2167.02L870.4 2168.25L880.35 2169.27L889.52 2170L897.11 2170.4L907.51 2170.7L927.5 2171.14L949.9 2171.5L1039 2172.5" fill="none" stroke="#A126DE" stroke-width="3.2" stroke-linejoin="round" stroke-linecap="round"/>
<path d="M160 2179.3L203.2 2178.9L216.8 2178.65L221.99 2178.45L228.36 2177.83L232.72 2177.22L235.87 2176.69L238.21 2176.18L240.53 2175.56L245.48 2173.97L249.22 2172.55L251.77 2171.4L254.24 2170.08L257.31 2168.2L267.98 2161.14L272.6 2157.97L277.8 2154.25L287.12 2147.34L290.78 2144.23L292.21 2142.84L293.57 2141.38L295.6 2138.9L299.47 2133.8L304.15 2127.82L307.15 2123.57L309.26 2120.18L310.92 2116.99L312.44 2113.29L313.97 2108.74L315.32 2104.14L317.68 2094.42L320.44 2083.57L321.52 2078.48L324.04 2065.52L331.34 2027.01L333.95 2012.44L337.33 1991.92L338.9 1983.26L342.96 1963.27L346.59 1944.41L348 1938.17L349.73 1931.18L351.04 1926.57L352.44 1922.4L354.19 1917.93L355.57 1915.05L356.88 1913.05L357.64 1912.13L358.48 1911.3L359.43 1910.6L360.11 1910.21L361.2 1909.78L361.95 1909.61L362.72 1909.55L363.48 1909.61L364.23 1909.79L365.29 1910.25L365.95 1910.66L366.85 1911.42L367.64 1912.3L368.34 1913.27L369.76 1915.67L371.08 1918.58L372.62 1922.7L374.22 1927.65L376.01 1934.62L381.03 1956.04L381.98 1959.51L384.83 1969.1L386.18 1974.12L387.23 1978.39L388.45 1984.27L391.21 2000.03L394 2014.56L395.22 2020.03L402.64 2051.56L403.9 2056.61L405.2 2061.23L406.75 2066.19L409.28 2073.78L411.97 2081.31L414.89 2088.76L419.97 2100.94L421.29 2103.86L422.53 2106.37L424.07 2109.17L425.9 2112.27L427.61 2114.97L429.21 2117.27L430.67 2119.17L432.25 2120.98L433.66 2122.4L435.46 2123.98L446.12 2132.42L449.7 2134.97L452.11 2136.4L454.95 2137.87L458.22 2139.36L461.56 2140.71L465.7 2142.21L469.89 2143.53L474.92 2144.87L479.21 2145.83L483.56 2146.5L489.12 2147.12L492.71 2147.26L495.51 2147.12L499.07 2146.62L503.39 2145.81L506.88 2144.93L509.93 2143.95L511.79 2143.22L513.61 2142.4L518.61 2139.88L525.33 2136.34L530.45 2134.07L534.55 2132.48L538.31 2131.12L544 2129.22L551.27 2126.99L554.63 2125.73L556.43 2124.86L558.14 2123.83L560.09 2122.43L569.02 2115.68L570.71 2114.64L572.16 2114.01L573.69 2113.54L575.24 2113.18L578.4 2112.72L581.2 2112.62L588.39 2112.67L589.99 2112.58L591.17 2112.43L593.5 2111.88L600.78 2109.69L602.65 2109L604.42 2108.1L605.74 2107.21L606.95 2106.18L609.72 2103.3L611.81 2100.88L613.31 2099L614.72 2097.07L616.28 2094.74L618.52 2090.95L620.3 2087.38L622.28 2082.57L624.64 2076.19L631.86 2054.57L633.82 2048.47L641.74 2022.87L645.11 2010.94L646.06 2007.88L647.7 2003.38L650.63 1996.36L651.94 1993.01L653.24 1989.23L654.5 1985.01L656.57 1977.29L658.59 1968.72L662.4 1949.09L666.13 1931.07L667.3 1926.42L668.36 1923.41L669.22 1921.61L670.23 1919.89L674.01 1914.73L675.49 1912.36L677.14 1909.16L680.91 1901.21L684.48 1894.05L685.86 1891.62L687.68 1889L689.23 1887.19L689.81 1886.69L690.46 1886.29L691.16 1886.01L691.9 1885.84L695.43 1885.62L696.19 1885.5L696.89 1885.26L697.53 1884.9L698.1 1884.41L698.6 1883.83L699.27 1882.86L700.6 1880.4L701.81 1877.45L703.29 1873.3L706.15 1864.56L707.49 1860.79L707.97 1859.71L708.53 1858.72L709.18 1858.01L709.67 1857.83L709.91 1857.84L710.4 1858.07L710.84 1858.54L711.24 1859.15L711.89 1860.57L712.64 1862.84L713.58 1866.31L714.45 1870.22L715.22 1874.55L715.75 1878.51L716.87 1890.46L720.21 1935.14L725.22 1998.94L726.22 2010.5L727.11 2018.85L728.17 2027.18L732.1 2054.9L733.69 2065.18L735.88 2076.57L737.07 2082.04L738.18 2086.71L739.21 2090.58L740.23 2094.03L741.72 2098.59L743.06 2102.36L744.21 2105.35L745.48 2108.28L746.53 2110.44L747.71 2112.53L749.43 2115.23L751.29 2117.82L753.07 2119.99L754.72 2121.72L756.52 2123.3L758.46 2124.7L760.86 2126.15L763.7 2127.61L775.81 2132.87L789.19 2138.17L792.47 2139.65L795.33 2141.1L797.39 2142.32L799.7 2143.9L807.29 2149.77L809.88 2151.66L812.24 2153.16L814.71 2154.47L820.57 2157.04L823.55 2158.19L826.2 2159.1L828.88 2159.91L831.2 2160.52L836.69 2161.62L841.43 2162.38L846.98 2163.12L862.88 2164.91L880.35 2166.99L889.91 2167.95L898.29 2168.52L919.87 2169.28L945.06 2169.92L1039 2171.5" fill="none" stroke="#838383" stroke-width="3.2" stroke-linejoin="round" stroke-linecap="round"/>
<path d="M202.5 44.8 H237.1" stroke="#A06A1C" stroke-width="3.2" stroke-linecap="round"/>
<text x="257.3" y="52.5" font-size="22">TrpA</text>
<path d="M202.5 82.8 H237.1" stroke="#5BB43C" stroke-width="3.2" stroke-linecap="round"/>
<text x="257.3" y="90.4" font-size="22">TrpB</text>
<path d="M363.4 43.3 H398.5" stroke="#F07216" stroke-width="3.2" stroke-linecap="round"/>
<text x="418.8" y="51.0" font-size="22">TrpA and TrpB</text>
<path d="M363.4 82.8 H398.5" stroke="#B823BD" stroke-width="3.2" stroke-linecap="round"/>
<text x="418.8" y="90.0" font-size="22">TrpA, TrpB and PLP</text>
<path d="M664.5 41.9 H699.1" stroke="#5AA5EA" stroke-width="3.2" stroke-linecap="round"/>
<text x="720.2" y="48.6" font-size="22">TrpA, TrpB and compound <tspan font-weight="bold">2</tspan></text>
<path d="M664.5 81.1 H699.1" stroke="#A6A6A8" stroke-width="3.2" stroke-linecap="round"/>
<text x="720.2" y="88.1" font-size="22">TrpA, TrpB, compound <tspan font-weight="bold">2</tspan> and PLP</text>
<text x="283.8" y="206.3" font-size="23.1" text-anchor="start">TrpAB</text>
<text x="410.5" y="253.3" font-size="23.1" text-anchor="start">TrpB</text>
<text x="568.6" y="289.3" font-size="23.1" text-anchor="start">TrpA</text>
<text x="630.0" y="424.3" font-size="23.1" text-anchor="start">PLP</text>
<text x="869.6" y="237.0" font-size="23.1" text-anchor="start">Compound <tspan font-weight="bold">2</tspan></text>
<path d="M248.5 698.4 H283.0" stroke="#F07216" stroke-width="3.2" stroke-linecap="round"/>
<text x="303.4" y="705.6" font-size="22.95">TrpA and TrpB</text>
<path d="M248.5 736.1 H283.0" stroke="#1CE01C" stroke-width="3.2" stroke-linecap="round"/>
<text x="303.4" y="743.9" font-size="22.95">TrpA, TrpB and substrates</text>
<path d="M248.5 775.7 H283.0" stroke="#1226D8" stroke-width="3.2" stroke-linecap="round"/>
<text x="303.4" y="783.3" font-size="22.95">TrpA, TrpB, substrates and compound <tspan font-weight="bold">3</tspan></text>
<text x="267.1" y="903.9" font-size="23.1" text-anchor="start">TrpAB</text>
<text x="410.1" y="891.4" font-size="23.1" text-anchor="start">TrpB</text>
<text x="545.2" y="917.1" font-size="23.1" text-anchor="start">TrpA</text>
<text x="629.6" y="976.6" font-size="23.1" text-anchor="start">PLP</text>
<text x="754.8" y="884.8" font-size="23.1"><tspan font-size="15.8">L</tspan>-Tryptophan</text>
<path d="M251.0 1247.2 H286.2" stroke="#F07216" stroke-width="3.2" stroke-linecap="round"/>
<text x="307.6" y="1255.3" font-size="22.95">TrpA and TrpB-F188L</text>
<path d="M251.0 1284.9 H286.2" stroke="#1CE01C" stroke-width="3.2" stroke-linecap="round"/>
<text x="307.6" y="1293.2" font-size="22.95">TrpA, TrpB-F188L and substrates</text>
<path d="M251.0 1323.0 H286.2" stroke="#1226D8" stroke-width="3.2" stroke-linecap="round"/>
<text x="307.6" y="1331.4" font-size="22.95">TrpA, TrpB-F188L, substrates and compound <tspan font-weight="bold">3</tspan></text>
<text x="272.9" y="1474.3" font-size="23.1" text-anchor="start">TrpAB</text>
<text x="417.0" y="1510.8" font-size="23.1" text-anchor="start">TrpB</text>
<text x="556.3" y="1538.1" font-size="23.1" text-anchor="start">TrpA</text>
<text x="640.8" y="1473.5" font-size="23.1" text-anchor="start">PLP</text>
<text x="733.2" y="1380.1" font-size="23.1"><tspan font-size="15.8">L</tspan>-Tryptophan</text>
<path d="M248.9 1752.4 H283.4" stroke="#F07216" stroke-width="3.2" stroke-linecap="round"/>
<text x="304.5" y="1760.1" font-size="22.95">TrpA and TrpB-F188L</text>
<path d="M248.9 1790.5 H283.4" stroke="#A126DE" stroke-width="3.2" stroke-linecap="round"/>
<text x="304.5" y="1797.9" font-size="22.95">TrpA, TrpB-F188L and PLP</text>
<path d="M248.9 1828.2 H283.4" stroke="#838383" stroke-width="3.2" stroke-linecap="round"/>
<text x="304.5" y="1835.1" font-size="22.95">TrpA, TrpB-F188L, PLP and compound <tspan font-weight="bold">3</tspan></text>
<text x="272.1" y="1932.4" font-size="23.1" text-anchor="start">TrpAB</text>
<text x="418.5" y="1988.7" font-size="23.1" text-anchor="start">TrpB</text>
<text x="514.4" y="2055.1" font-size="23.1" text-anchor="start">TrpA</text>
<text x="733.0" y="1921.7" font-size="23.1" text-anchor="start">PLP</text>
</svg></body></html>
